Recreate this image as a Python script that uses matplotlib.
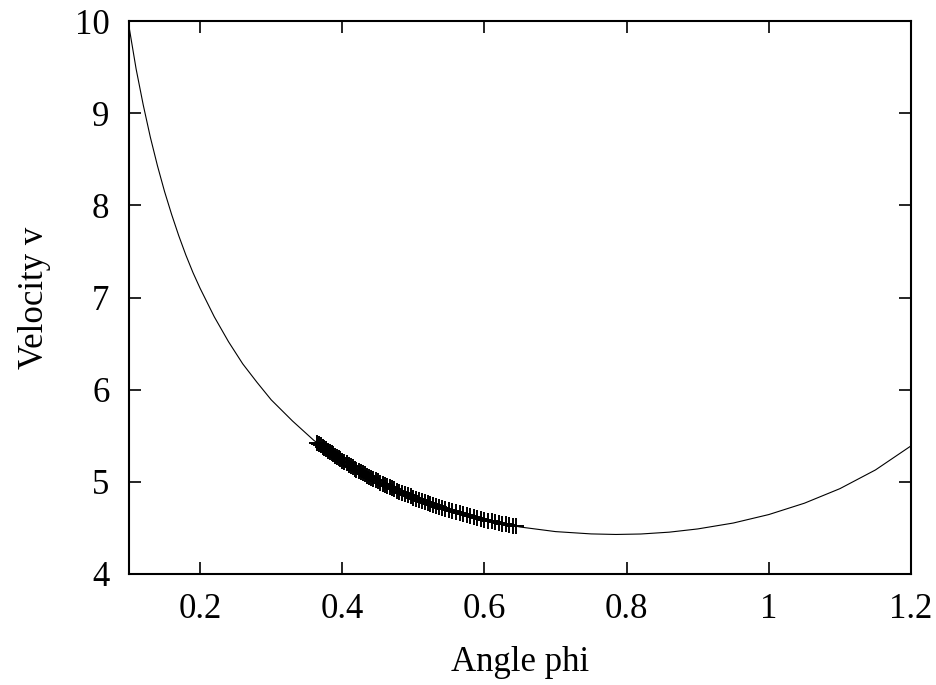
import matplotlib
matplotlib.use("Agg")
import matplotlib.pyplot as plt

# smooth curve v(phi)
curve_phi = [0.10, 0.11, 0.12, 0.13, 0.14, 0.15, 0.16, 0.17, 0.18, 0.19, 0.20,
             0.22, 0.24, 0.26, 0.28, 0.30, 0.33, 0.36, 0.40, 0.45, 0.50, 0.55,
             0.60, 0.65, 0.70, 0.75, 0.785, 0.82, 0.86, 0.90, 0.95, 1.00, 1.05,
             1.10, 1.15, 1.20]
curve_v = [9.94, 9.48, 9.09, 8.74, 8.43, 8.15, 7.90, 7.67, 7.46, 7.27, 7.10,
           6.79, 6.52, 6.28, 6.08, 5.89, 5.66, 5.45, 5.23, 5.00, 4.83, 4.69,
           4.59, 4.51, 4.46, 4.435, 4.429, 4.434, 4.454, 4.489, 4.553, 4.645, 4.768,
           4.926, 5.129, 5.390]

# measured points (crosses)
pts_phi = [0.365, 0.3675, 0.370, 0.3725, 0.375, 0.3775, 0.380,
           0.3825, 0.385, 0.3875, 0.390, 0.3925, 0.395, 0.3975, 0.400,
           0.403, 0.406, 0.409, 0.412, 0.415, 0.418, 0.420,
           0.423, 0.426, 0.429, 0.432, 0.435, 0.438, 0.440,
           0.443, 0.447, 0.450, 0.453, 0.457, 0.460,
           0.463, 0.467, 0.470, 0.473, 0.477, 0.480,
           0.484, 0.488, 0.492, 0.496, 0.500,
           0.504, 0.508, 0.512, 0.516, 0.520,
           0.524, 0.528, 0.532, 0.536, 0.540,
           0.545, 0.550, 0.555, 0.560,
           0.565, 0.570, 0.575, 0.580,
           0.585, 0.590, 0.595, 0.600,
           0.605, 0.610, 0.615, 0.620,
           0.625, 0.630, 0.635, 0.640, 0.645]
pts_v = [5.424, 5.410, 5.395, 5.381, 5.366, 5.352, 5.337,
         5.324, 5.310, 5.297, 5.284, 5.270, 5.257, 5.243, 5.230,
         5.215, 5.201, 5.186, 5.172, 5.157, 5.143, 5.133,
         5.120, 5.107, 5.094, 5.080, 5.067, 5.054, 5.045,
         5.032, 5.019, 5.006, 4.992, 4.979, 4.966,
         4.955, 4.941, 4.930, 4.919, 4.905, 4.894,
         4.881, 4.868, 4.855, 4.842, 4.829,
         4.817, 4.805, 4.793, 4.782, 4.770,
         4.759, 4.749, 4.738, 4.728, 4.717,
         4.705, 4.693, 4.681, 4.669,
         4.658, 4.647, 4.637, 4.626,
         4.617, 4.607, 4.598, 4.588,
         4.580, 4.572, 4.563, 4.555,
         4.547, 4.540, 4.532, 4.525, 4.518]

xticks = [0.2, 0.4, 0.6, 0.8, 1.0, 1.2]
xtick_labels = ["0.2", "0.4", "0.6", "0.8", "1", "1.2"]
yticks = [4, 5, 6, 7, 8, 9, 10]

plt.rcParams['font.family'] = ['Liberation Serif', 'DejaVu Serif']

fig = plt.figure(figsize=(9.37, 6.85), dpi=100)
ax = fig.add_axes([129/937, 1 - 574/685, (911 - 129)/937, (574 - 21)/685])

ax.plot(curve_phi, curve_v, color='black', linewidth=0.8)
ax.plot(pts_phi, pts_v, linestyle='none', marker='+', color='black',
        markersize=11, markeredgewidth=1.4)

ax.set_xlim(0.1, 1.2)
ax.set_ylim(4, 10)
ax.set_xticks(xticks)
ax.set_xticklabels(xtick_labels)
ax.set_yticks(yticks)
ax.tick_params(direction='in', length=8.5, width=1.2, top=True, right=True,
               labelsize=25, pad=14)
for s in ax.spines.values():
    s.set_linewidth(1.5)

ax.set_xlabel('Angle phi', fontsize=25, labelpad=14)
ax.set_ylabel('Velocity v', fontsize=25, labelpad=17)

fig.savefig('out.png', dpi=100)
